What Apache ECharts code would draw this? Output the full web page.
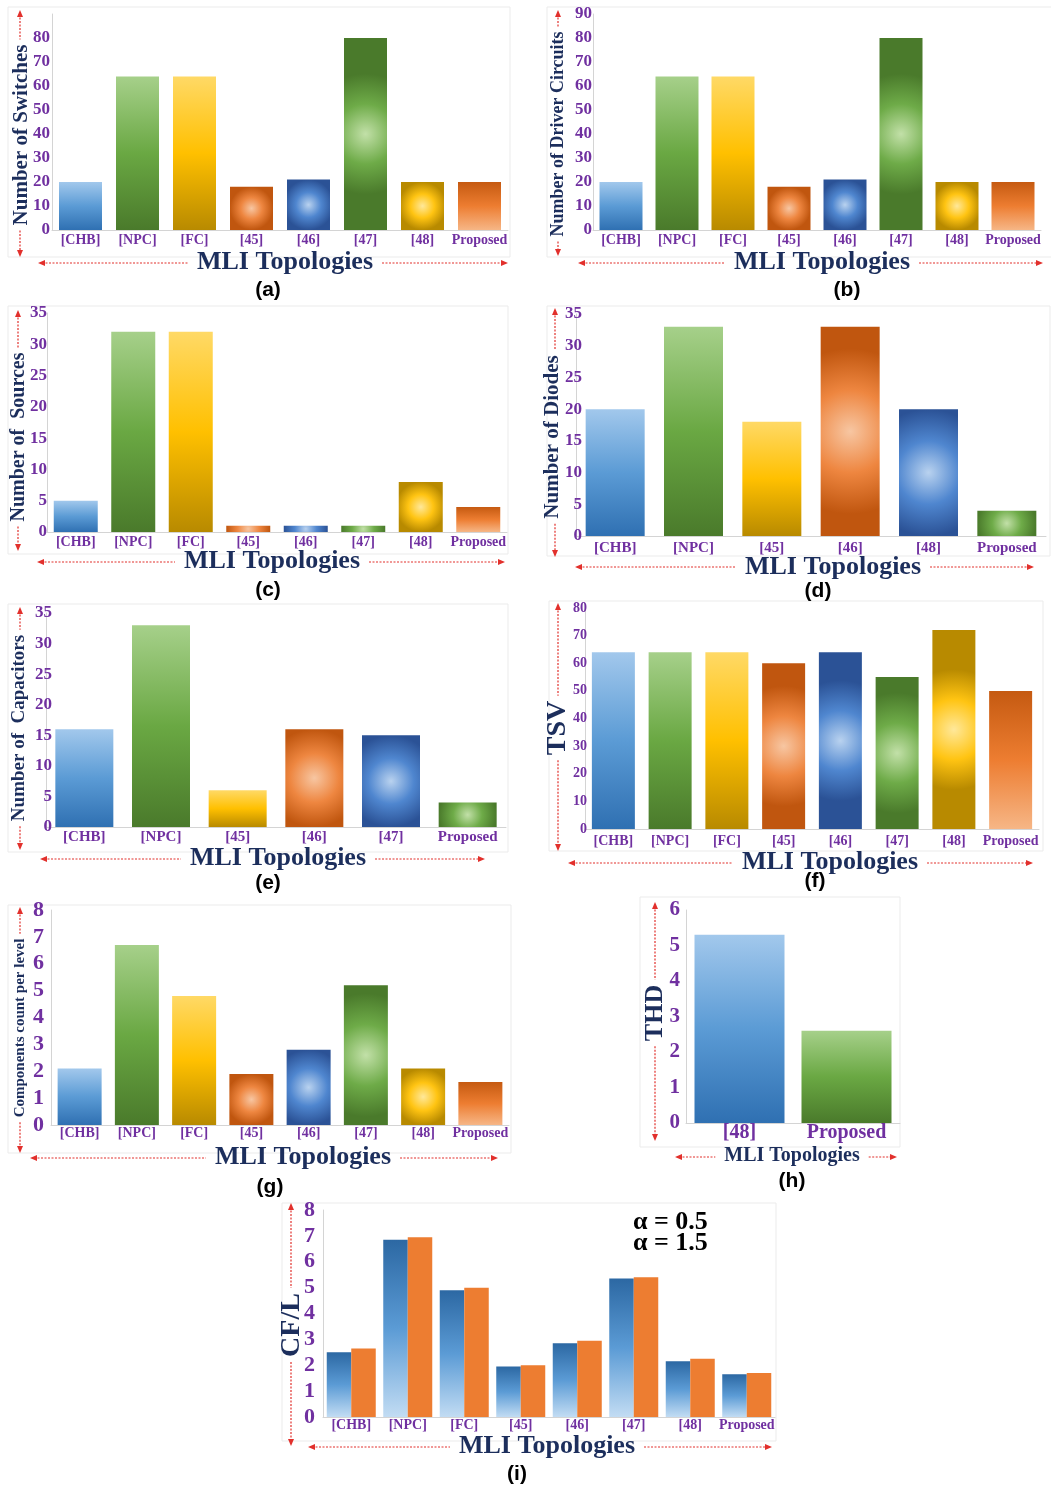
<!DOCTYPE html>
<html><head><meta charset="utf-8">
<script src="https://cdn.jsdelivr.net/npm/echarts@6/dist/echarts.min.js"></script>
<style>html,body{margin:0;padding:0;background:#fff}#c{width:1051px;height:1490px}</style>
</head><body><div id="c"></div>
<script>
// ---------- DATA ----------
const cats8 = ['[CHB]','[NPC]','[FC]','[45]','[46]','[47]','[48]','Proposed'];
const switchesCount = [20,64,64,18,21,80,20,20];
const driverCircuits = [20,64,64,18,21,80,20,20];
const sourcesCount = [5,32,32,1,1,1,8,4];
const catsDiodes = ['[CHB]','[NPC]','[45]','[46]','[48]','Proposed'];
const diodesCount = [20,33,18,33,20,4];
const catsCaps = ['[CHB]','[NPC]','[45]','[46]','[47]','Proposed'];
const capacitorsCount = [16,33,6,16,15,4];
const tsvValues = [64,64,64,60,64,55,72,50];
const compPerLevel = [2.1,6.7,4.8,1.9,2.8,5.2,2.1,1.6];
const catsTHD = ['[48]','Proposed'];
const thdValues = [5.3,2.6];
const cflAlpha05 = [2.5,6.85,4.9,1.95,2.85,5.35,2.15,1.65];
const cflAlpha15 = [2.65,6.95,5.0,2.0,2.95,5.4,2.25,1.7];
const legendLabels = ['α = 0.5','α = 1.5'];

// ---------- STYLE ----------
const PURPLE = '#7030a0', NAVY = '#1c2e5c', RED = '#e2302c';
const SERIF = '"Liberation Serif","Times New Roman",serif';
const SANS = '"Liberation Sans",Arial,sans-serif';
const GRAD = {
  bL: ['#a2c8ec','#5b9bd5','#2f70b2'],
  gL: ['#a6d08a','#6aa843','#4a7a2b'],
  yL: ['#ffd966','#ffc000','#b88a00'],
  oLr: ['#c55a11','#ed7d31','#f6b686'],
  oR: ['#f7c6a2','#ee8640','#c0560f'],
  bR: ['#b9d2ef','#4f86cf','#2b5296'],
  gR: ['#c2e0a8','#6eab48','#4a7a2b'],
  yR: ['#ffe89a','#ffc412','#b88a00']
};
function fill(key, w, h){
  const c = GRAD[key];
  if (key.endsWith('R')) {
    h = Math.max(h, 1);
    const mn = Math.min(w,h);
    const R = w < h ? Math.min(1.4*w, h/2) : w/2;
    return {type:'radial', x:0.5, y:0.5, r:R/mn,
      colorStops:[{offset:0,color:c[0]},{offset:0.5,color:c[1]},{offset:1,color:c[2]}]};
  }
  return {type:'linear', x:0, y:0, x2:0, y2:1,
    colorStops:[{offset:0,color:c[0]},{offset:0.5,color:c[1]},{offset:1,color:c[2]}]};
}
const st8 = ['bL','gL','yL','oR','bR','gR','yR','oLr'];
const st6 = ['bL','gL','yL','oR','bR','gR'];

const mctx = document.createElement('canvas').getContext('2d');
function tw(t, fs, font){ mctx.font = 'bold '+fs+'px '+font; return mctx.measureText(t).width; }

const grids=[], xAxes=[], yAxes=[], series=[], graphic=[];
const DASH = {stroke:RED, lineWidth:1.2, lineDash:[2,1.5]};

function vArrow(x,y1,y2,cy,len){
  const a = cy - len/2 - 5, b = cy + len/2 + 5;
  if (a > y1+5) graphic.push({type:'line', z:1, shape:{x1:x,y1:y1+4,x2:x,y2:a}, style:DASH});
  if (b < y2-5) graphic.push({type:'line', z:1, shape:{x1:x,y1:b,x2:x,y2:y2-4}, style:DASH});
  graphic.push({type:'polygon', z:1, shape:{points:[[x,y1],[x-3,y1+7],[x+3,y1+7]]}, style:{fill:RED}});
  graphic.push({type:'polygon', z:1, shape:{points:[[x,y2],[x-3,y2-7],[x+3,y2-7]]}, style:{fill:RED}});
}
function hArrow(y,x1,x2,cx,len){
  const a = cx - len/2 - 9, b = cx + len/2 + 9;
  graphic.push({type:'line', z:1, shape:{x1:x1+4,y1:y,x2:a,y2:y}, style:DASH});
  graphic.push({type:'line', z:1, shape:{x1:b,y1:y,x2:x2-4,y2:y}, style:DASH});
  graphic.push({type:'polygon', z:1, shape:{points:[[x1,y],[x1+7,y-3],[x1+7,y+3]]}, style:{fill:RED}});
  graphic.push({type:'polygon', z:1, shape:{points:[[x2,y],[x2-7,y-3],[x2-7,y+3]]}, style:{fill:RED}});
}
function txt(t,x,y,fs,color,font,rot){
  const o = {type:'text', z:10, x:x, y:y, style:{text:t, fill:color, font:'bold '+fs+'px '+font, align:'center', verticalAlign:'middle'}};
  if (rot) o.rotation = rot;
  graphic.push(o);
}

function panel(p){
  const gi = grids.length;
  graphic.push({type:'rect', z:0, shape:p.frame, style:{fill:'none', stroke:'#ebebeb', lineWidth:1}});
  grids.push({left:p.x, top:p.y, width:p.w, height:p.h});
  xAxes.push({type:'category', gridIndex:gi, data:p.cats,
    axisLine:{show:true, lineStyle:{color:'#d4d4d4'}}, axisTick:{show:false},
    axisLabel:{interval:0, color:PURPLE, fontFamily:SERIF, fontWeight:'bold', fontSize:p.xfs||14, margin:p.xm==null?3:p.xm}});
  const yl = {color:PURPLE, fontFamily:SERIF, fontWeight:'bold', fontSize:p.yfs||17, margin:p.ym==null?3:p.ym};
  if (p.hideTop) yl.formatter = v => (v === p.max ? '' : String(v));
  yAxes.push({type:'value', gridIndex:gi, min:0, max:p.max, interval:p.step,
    splitLine:{show:false}, axisLine:{show:true, lineStyle:{color:'#d4d4d4'}}, axisTick:{show:false}, axisLabel:yl});
  (p.series||[]).forEach(s => {
    series.push(Object.assign({type:'bar', xAxisIndex:gi, yAxisIndex:gi, barWidth:p.bw, barGap:'0%'}, s));
  });
  if (p.values) {
    series.push({type:'bar', xAxisIndex:gi, yAxisIndex:gi, barWidth:p.bw,
      data:p.values.map((v,i)=>({value:v, itemStyle:{color:fill(p.styles[i], p.bw, v/p.max*p.h)}}))});
  }
  vArrow(p.va[0], p.va[1], p.va[2], p.yt[1], tw(p.ytitle, p.yt[2], SERIF));
  txt(p.ytitle, p.yt[0], p.yt[1], p.yt[2], NAVY, SERIF, Math.PI/2);
  const xfsT = p.xt[2]||26;
  hArrow(p.ha[0], p.ha[1], p.ha[2], p.xt[0], tw('MLI Topologies', xfsT, SERIF));
  txt('MLI Topologies', p.xt[0], p.xt[1], xfsT, NAVY, SERIF, 0);
  txt(p.label, p.lb[0], p.lb[1], 21, '#000', SANS, 0);
}

// (a)
panel({x:52,y:14,w:456,h:216,max:90,step:10,hideTop:true,ym:2,bw:43,cats:cats8,values:switchesCount,styles:st8,
  frame:{x:8,y:7,width:502,height:250},
  ytitle:'Number of Switches', yt:[22,135,21], va:[20,10,257],
  xt:[285,262], ha:[263,38,508], label:'(a)', lb:[268,290]});
// (b)
panel({x:593,y:14,w:448,h:216,max:90,step:10,ym:1,bw:43,cats:cats8,values:driverCircuits,styles:st8,
  frame:{x:547,y:7,width:510,height:250},
  ytitle:'Number of Driver Circuits', yt:[558,134,18], va:[558,10,256],
  xt:[822,262], ha:[263,578,1043], label:'(b)', lb:[847,290]});
// (c)
panel({x:47,y:313,w:460,h:219,max:35,step:5,ym:0,bw:44,cats:cats8,values:sourcesCount,styles:st8,
  frame:{x:8,y:306,width:500,height:248},
  ytitle:'Number of  Sources', yt:[19,437,20], va:[18,310,551],
  xt:[272,561], ha:[562,37,505], label:'(c)', lb:[268,590]});
// (d)
panel({x:576,y:314,w:470,h:222,max:35,step:5,ym:-6,bw:59,xfs:15,xm:5,cats:catsDiodes,values:diodesCount,styles:st6,
  frame:{x:547,y:306,width:503,height:250},
  ytitle:'Number of Diodes', yt:[553,437,21], va:[555,308,557],
  xt:[833,567], ha:[567,575,1034], label:'(d)', lb:[818,591]});
// (e)
panel({x:46,y:613,w:460,h:214,max:35,step:5,ym:-6,bw:58,xfs:15,cats:catsCaps,values:capacitorsCount,styles:st6,
  frame:{x:8,y:604,width:500,height:248},
  ytitle:'Number of  Capacitors', yt:[19,728,19], va:[20,607,850],
  xt:[278,858], ha:[859,40,485], label:'(e)', lb:[268,883]});
// (f)
panel({x:585,y:608,w:454,h:221,max:80,step:10,yfs:14,ym:-2,xm:5,bw:43,cats:cats8,values:tsvValues,styles:st8,
  frame:{x:549,y:601,width:494,height:250},
  ytitle:'TSV', yt:[558,728,28], va:[558,603,851],
  xt:[830,862], ha:[863,568,1033], label:'(f)', lb:[815,881]});
// (g)
panel({x:51,y:910,w:458,h:215,max:8,step:1,yfs:22,ym:7,xm:1,bw:44,cats:cats8,values:compPerLevel,styles:st8,
  frame:{x:8,y:905,width:503,height:248},
  ytitle:'Components count per level', yt:[20,1028,15], va:[20,907,1153],
  xt:[303,1157], ha:[1158,30,498], label:'(g)', lb:[270,1187]});
// (h)
panel({x:686,y:910,w:214,h:213,max:6,step:1,yfs:21,ym:6,xfs:20,xm:0,bw:90,cats:catsTHD,values:thdValues,styles:['bL','gL'],
  frame:{x:640,y:897,width:260,height:250},
  ytitle:'THD', yt:[655,1013,26], va:[655,902,1141],
  xt:[792,1156,20], ha:[1157,675,897], label:'(h)', lb:[792,1181]});
// (i)
panel({x:323,y:1210,w:452,h:207,max:8,step:1,yfs:22,ym:8,xm:1,bw:24.5,cats:cats8,
  series:[
    {name:legendLabels[0], data:cflAlpha05, itemStyle:{color:{type:'linear',x:0,y:0,x2:0,y2:1,colorStops:[{offset:0,color:'#2c68a3'},{offset:0.5,color:'#5b9bd5'},{offset:1,color:'#c2dcf3'}]}}},
    {name:legendLabels[1], data:cflAlpha15, itemStyle:{color:'#ed7d31'}}
  ],
  frame:{x:282,y:1203,width:494,height:238},
  ytitle:'CF/L', yt:[292,1325,28], va:[291,1203,1446],
  xt:[547,1446], ha:[1447,308,772], label:'(i)', lb:[517,1474]});
graphic.push({type:'text', z:10, x:633, y:1222, style:{text:legendLabels[0], fill:'#000', font:'bold 26px '+SERIF, align:'left', verticalAlign:'middle'}});
graphic.push({type:'text', z:10, x:633, y:1243, style:{text:legendLabels[1], fill:'#000', font:'bold 26px '+SERIF, align:'left', verticalAlign:'middle'}});

const chart = echarts.init(document.getElementById('c'), null, {renderer:'canvas'});
chart.setOption({animation:false, backgroundColor:'#fff', grid:grids, xAxis:xAxes, yAxis:yAxes, series:series, graphic:graphic});
</script>
</body></html>
